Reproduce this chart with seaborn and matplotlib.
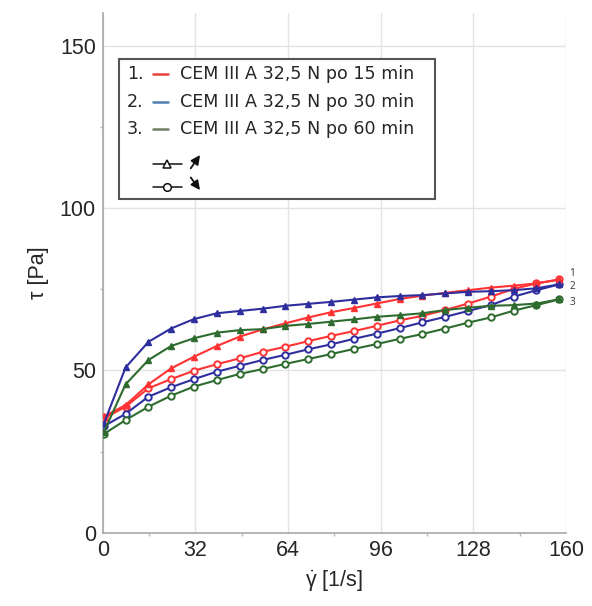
import numpy as np
import pandas as pd
import matplotlib
matplotlib.use("Agg")
import matplotlib.pyplot as plt
from matplotlib.lines import Line2D
from matplotlib.patches import Rectangle
import seaborn as sns

# Shear rate [1/s] at each measuring point
shear_rate = [0.4, 7.9, 15.8, 23.6, 31.5, 39.4, 47.3, 55.2, 63.1, 71.0, 78.8,
              86.7, 94.6, 102.5, 110.4, 118.3, 126.2, 134.0, 141.9, 149.8, 157.7]

# Shear stress [Pa], ramp up (triangles) and ramp down (circles)
red_up = [35.8, 39.3, 45.7, 50.6, 54.2, 57.5, 60.4, 62.6, 64.5, 66.3, 67.9,
          69.2, 70.6, 72.0, 73.0, 73.9, 74.7, 75.5, 76.1, 76.8, 78.0]
red_down = [35.2, 38.8, 44.5, 47.3, 49.9, 51.9, 53.7, 55.7, 57.3, 59.0, 60.6,
            62.1, 63.7, 65.4, 66.8, 68.6, 70.6, 72.7, 75.1, 76.8, 78.0]
blue_up = [33.6, 50.9, 58.8, 62.9, 65.8, 67.6, 68.3, 69.0, 69.9, 70.5, 71.1,
           71.8, 72.5, 72.9, 73.2, 73.7, 74.2, 74.4, 74.7, 75.3, 76.5]
blue_down = [32.8, 36.6, 41.9, 44.8, 47.3, 49.6, 51.4, 53.2, 54.8, 56.5, 58.0,
             59.7, 61.3, 63.0, 64.8, 66.5, 68.3, 70.1, 72.7, 74.7, 76.5]
green_up = [31.0, 45.7, 53.2, 57.5, 59.9, 61.6, 62.4, 62.7, 63.7, 64.3, 65.0,
            65.7, 66.5, 67.0, 67.6, 68.6, 69.3, 69.9, 70.1, 70.6, 71.9]
green_down = [30.4, 34.7, 38.8, 42.2, 45.0, 47.0, 48.9, 50.4, 52.0, 53.5, 55.0,
              56.6, 58.1, 59.7, 61.2, 62.9, 64.7, 66.3, 68.4, 70.1, 71.9]

sample_names = ["CEM III A 32,5 N po 15 min",
                "CEM III A 32,5 N po 30 min",
                "CEM III A 32,5 N po 60 min"]
curve_colors = ["#ff3333", "#2e2e9e", "#2e6b2e"]
legend_line_colors = ["#e8403c", "#4f7fae", "#6f7f62"]
end_labels = ["1", "2", "3"]
end_label_y = [79.9, 75.8, 70.9]

x_ticks = [0, 32, 64, 96, 128, 160]
y_ticks = [0, 50, 100, 150]

series = [(red_up, red_down), (blue_up, blue_down), (green_up, green_down)]

sns.set_theme(style="white")
plt.rcParams["font.family"] = ["Liberation Sans", "DejaVu Sans"]
plt.rcParams["mathtext.fontset"] = "custom"
plt.rcParams["mathtext.rm"] = "Liberation Sans"
plt.rcParams["mathtext.it"] = "Liberation Sans:italic"

fig = plt.figure(figsize=(5.92, 6.06), dpi=100)
ax = fig.add_axes([0.1735, 0.121, 0.7826, 0.857])

rows = []
for name, (up, down) in zip(sample_names, series):
    for x, y in zip(shear_rate, up):
        rows.append((name, "up", x, y))
    for x, y in zip(shear_rate, down):
        rows.append((name, "down", x, y))
df = pd.DataFrame(rows, columns=["sample", "ramp", "rate", "stress"])

for name, color in zip(sample_names, curve_colors):
    up = df[(df["sample"] == name) & (df["ramp"] == "up")]
    down = df[(df["sample"] == name) & (df["ramp"] == "down")]
    sns.lineplot(data=down, x="rate", y="stress", ax=ax, color=color,
                 linewidth=1.5, marker="o", markersize=4.6,
                 markerfacecolor="white", markeredgecolor=color,
                 markeredgewidth=1.4, sort=False, legend=False, zorder=3)
    sns.lineplot(data=up, x="rate", y="stress", ax=ax, color=color,
                 linewidth=1.5, marker="^", markersize=4.8,
                 markerfacecolor=color, markeredgecolor=color,
                 markeredgewidth=1.0, sort=False, legend=False, zorder=4)

for lab, yv in zip(end_labels, end_label_y):
    ax.text(161.2, yv, lab, fontsize=7.3, color="#333333",
            family="Open Sans", va="center", ha="left", clip_on=False)

ax.set_xlim(0, 160)
ax.set_ylim(0, 160)
ax.set_xticks(x_ticks)
ax.set_yticks(y_ticks)
ax.set_xticks([16, 48, 80, 112, 144], minor=True)
ax.set_yticks([25, 75, 125], minor=True)
ax.grid(True, which="major", color="#e3e3e3", linewidth=1.0)
ax.set_axisbelow(True)
for side in ["top", "right"]:
    ax.spines[side].set_visible(False)
for side in ["left", "bottom"]:
    ax.spines[side].set_color("#a8a8a8")
    ax.spines[side].set_linewidth(1.2)
ax.tick_params(axis="both", which="major", labelsize=15.5, colors="#a8a8a8",
               labelcolor="#262626", length=3, width=1, direction="out", pad=2)
ax.tick_params(axis="both", which="minor", length=2.5, width=1,
               colors="#b8b8b8", bottom=True, left=True)

ax.set_xlabel(r"$\dot{\mathrm{\gamma}}$ [1/s]", fontsize=15.5,
              color="#262626", labelpad=6)
ax.set_ylabel("τ [Pa]", fontsize=15.5, color="#262626", labelpad=8)

# Legend block drawn in axes coordinates
legend_font = ["DejaVu Sans"]
box = Rectangle((0.0358, 0.642), 0.681, 0.271, transform=ax.transAxes,
                facecolor="white", edgecolor="#555555", linewidth=1.5,
                zorder=6)
ax.add_patch(box)
row_y = [0.8824, 0.8296, 0.7765]
for i, (name, lc) in enumerate(zip(sample_names, legend_line_colors)):
    ax.text(0.0518, row_y[i], f"{i + 1}.", transform=ax.transAxes,
            fontsize=12.6, family=legend_font, color="#262626",
            va="center", ha="left", zorder=7)
    ax.add_line(Line2D([0.108, 0.1415], [row_y[i], row_y[i]],
                       transform=ax.transAxes, color=lc, linewidth=1.8,
                       zorder=7))
    ax.text(0.1668, row_y[i], name, transform=ax.transAxes,
            fontsize=12.6, family=legend_font, color="#262626",
            va="center", ha="left", zorder=7)

for yy, mk in [(0.7097, "^"), (0.666, "o")]:
    ax.add_line(Line2D([0.108, 0.1705], [yy, yy], transform=ax.transAxes,
                       color="#111111", linewidth=1.1, zorder=7))
    ax.add_line(Line2D([0.139], [yy], transform=ax.transAxes, marker=mk,
                       markersize=5.5, markerfacecolor="white",
                       markeredgecolor="#111111", markeredgewidth=1.1,
                       zorder=8))

ax.annotate("", xy=(0.2101, 0.7272), xytext=(0.19, 0.7016),
            xycoords="axes fraction", textcoords="axes fraction",
            arrowprops=dict(arrowstyle="-|>,head_length=0.45,head_width=0.22",
                            color="#111111", lw=1.3, shrinkA=0, shrinkB=0),
            zorder=8)
ax.annotate("", xy=(0.2101, 0.6596), xytext=(0.19, 0.684),
            xycoords="axes fraction", textcoords="axes fraction",
            arrowprops=dict(arrowstyle="-|>,head_length=0.45,head_width=0.22",
                            color="#111111", lw=1.3, shrinkA=0, shrinkB=0),
            zorder=8)

fig.savefig("out.png", dpi=100)
